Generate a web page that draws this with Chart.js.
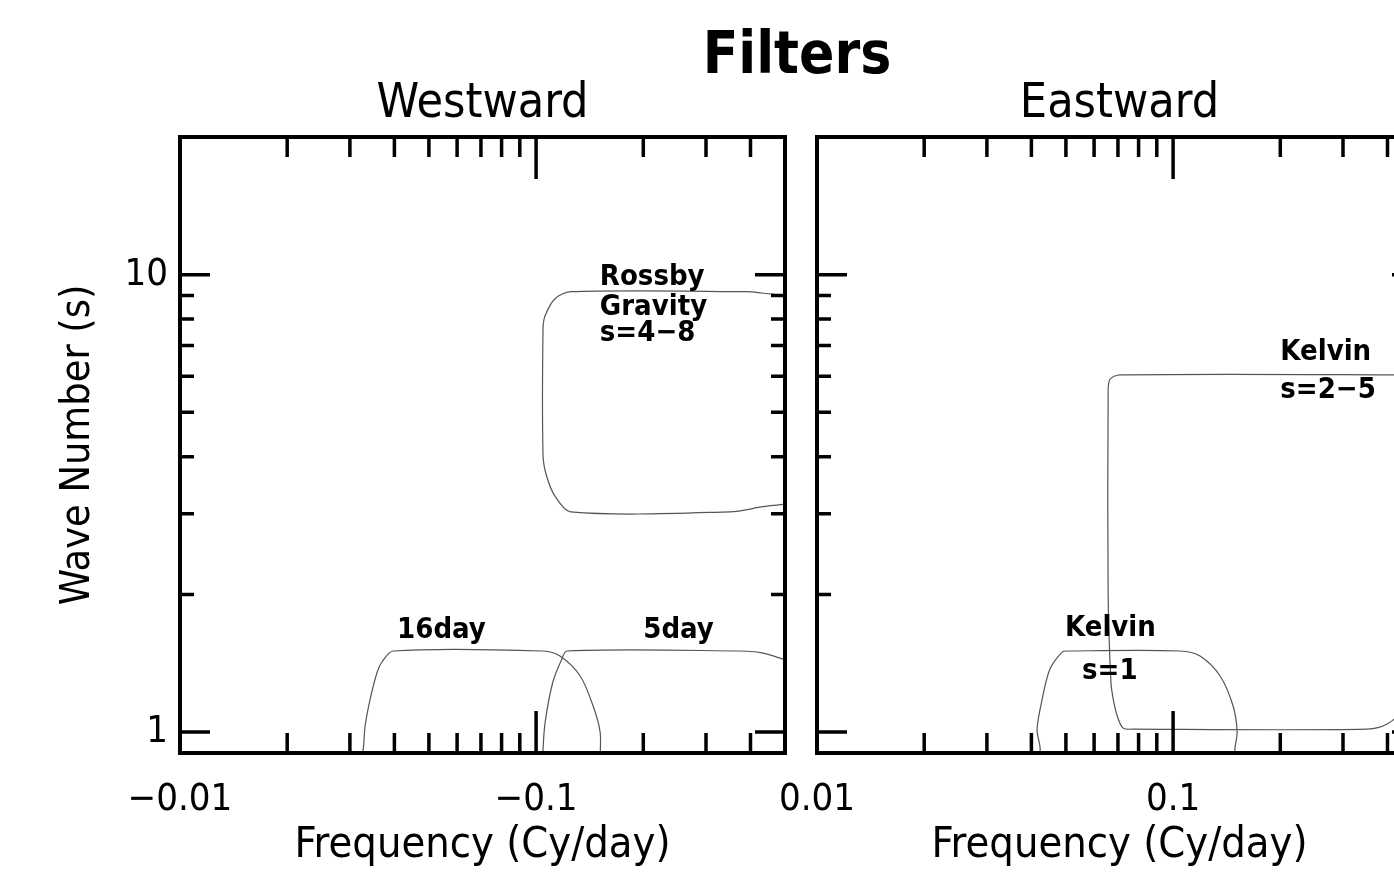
<!DOCTYPE html>
<html>
<head>
<meta charset="utf-8">
<title>Filters</title>
<script src="https://cdn.jsdelivr.net/npm/chart.js@4.4.1/dist/chart.umd.min.js"></script>
<style>
  html, body { margin: 0; padding: 0; background: #fff; overflow: hidden; }
  #wrap { position: relative; width: 1394px; height: 876px; overflow: hidden; }
  canvas { position: absolute; top: 0; }
  #west { left: 0; }
  #east { left: 740px; }
  #main-title { position: absolute; left: 597px; top: 24px; width: 400px; text-align: center;
    font: bold 58px/58px 'DejaVu Sans Condensed', 'DejaVu Sans', sans-serif; color: #000; }
</style>
</head>
<body>
<div id="wrap">
  <canvas id="west" width="813" height="876"></canvas>
  <canvas id="east" width="710" height="876"></canvas>
  <div id="main-title">Filters</div>
</div>
<script>
const FONT = "'DejaVu Sans Condensed', 'DejaVu Sans', sans-serif";

// tick values (cy/day, wave number)
const freqTicks = [0.01, 0.02, 0.03, 0.04, 0.05, 0.06, 0.07, 0.08, 0.09, 0.1, 0.2, 0.3, 0.4, 0.5];
const waveTicks = [1, 2, 3, 4, 5, 6, 7, 8, 9, 10];

// westward panel: frequency kept as |f|, the axis labels carry the minus sign
const rgFreq = [0.56, 0.5, 0.43, 0.39, 0.125, 0.113, 0.106, 0.1046, 0.1046, 0.107, 0.113, 0.125, 0.351, 0.434, 0.5, 0.56];
const rgWave = [8.95, 9.0, 9.12, 9.18, 9.18, 8.86, 8.13, 7.62, 4.02, 3.63, 3.28, 3.03, 3.03, 3.11, 3.15, 3.2];

const d16Freq = [0.0322, 0.0327, 0.0331, 0.0342, 0.0358, 0.0369, 0.0397, 0.1047, 0.1167, 0.133, 0.1446, 0.1513, 0.1513];
const d16Wave = [0.88, 0.918, 1.031, 1.181, 1.353, 1.423, 1.504, 1.504, 1.466, 1.326, 1.14, 1.0, 0.88];

const d5Freq = [0.1046, 0.1046, 0.106, 0.1114, 0.1179, 0.1222, 0.374, 0.43, 0.494, 0.56];
const d5Wave = [0.88, 0.918, 1.05, 1.285, 1.44, 1.504, 1.504, 1.49, 1.444, 1.40];

// eastward panel
const k1Freq = [0.0423, 0.0423, 0.0415, 0.0429, 0.0451, 0.0488, 0.0504, 0.1046, 0.119, 0.1355, 0.1474, 0.1513, 0.1493, 0.149];
const k1Wave = [0.88, 0.927, 1.015, 1.181, 1.374, 1.496, 1.504, 1.504, 1.466, 1.326, 1.14, 1.0, 0.927, 0.88];

const k25Freq = [0.56, 0.071, 0.0664, 0.0657, 0.0657, 0.0669, 0.0679, 0.0697, 0.0724, 0.078, 0.351, 0.399, 0.44, 0.47, 0.48];
const k25Wave = [6.04, 6.04, 5.9, 5.4, 2.0, 1.286, 1.181, 1.084, 1.02, 1.015, 1.015, 1.041, 1.12, 1.3, 2.0];

// text labels: [text, freq, wave number]
const westNotes = [
  ['Rossby', 0.151, 9.85], ['Gravity', 0.151, 8.5], ['s=4\u22128', 0.151, 7.45],
  ['16day', 0.0407, 1.665], ['5day', 0.2, 1.665]
];
const eastNotes = [
  ['Kelvin', 0.0497, 1.685], ['s=1', 0.0555, 1.36],
  ['Kelvin', 0.2, 6.75], ['s=2\u22125', 0.2, 5.58]
];

function isDecade(v) {
  const l = Math.log10(v);
  return Math.abs(l - Math.round(l)) < 1e-6;
}

function pts(xs, ys) {
  return xs.map((x, i) => ({ x: x, y: ys[i] }));
}

function curve(xs, ys) {
  return { data: pts(xs, ys), showLine: true, pointRadius: 0, borderColor: '#555', borderWidth: 1.2, tension: 0.3, fill: false };
}

// frame with inward tick marks on all four sides, taken from the scales
const frameTicks = {
  id: 'frameTicks',
  afterDraw(chart) {
    const ctx = chart.ctx;
    const x = chart.scales.x, y = chart.scales.y;
    const left = x.left, right = x.right, top = y.top, bottom = y.bottom;
    ctx.save();
    ctx.strokeStyle = '#000';
    ctx.lineWidth = 3.5;
    ctx.beginPath();
    x.ticks.forEach(t => {
      const px = x.getPixelForValue(t.value);
      const len = isDecade(t.value) ? 42 : 20;
      ctx.moveTo(px, bottom); ctx.lineTo(px, bottom - len);
      ctx.moveTo(px, top); ctx.lineTo(px, top + len);
    });
    y.ticks.forEach(t => {
      const py = y.getPixelForValue(t.value);
      const len = isDecade(t.value) ? 30 : 14;
      ctx.moveTo(left, py); ctx.lineTo(left + len, py);
      ctx.moveTo(right, py); ctx.lineTo(right - len, py);
    });
    ctx.stroke();
    ctx.lineWidth = 4;
    ctx.strokeRect(left, top, right - left, bottom - top);
    ctx.restore();
  }
};

function notesPlugin(notes) {
  return {
    id: 'notes',
    afterDatasetsDraw(chart) {
      const { ctx } = chart;
      const x = chart.scales.x, y = chart.scales.y;
      ctx.save();
      ctx.fillStyle = '#000';
      ctx.font = 'bold 29px ' + FONT;
      ctx.textAlign = 'left';
      ctx.textBaseline = 'middle';
      notes.forEach(n => ctx.fillText(n[0], x.getPixelForValue(n[1]), y.getPixelForValue(n[2])));
      ctx.restore();
    }
  };
}

function panel(canvas, title, datasets, notes, west) {
  return new Chart(canvas, {
    type: 'scatter',
    data: { datasets: datasets },
    options: {
      responsive: false,
      animation: false,
      events: [],
      layout: { padding: west ? { left: 40, right: 0, top: 10, bottom: 4 } : { left: 77, right: 0, top: 10, bottom: 4 } },
      plugins: {
        legend: { display: false },
        tooltip: { enabled: false },
        title: {
          display: true, text: title, fullSize: false, color: '#000',
          font: { family: FONT, size: 48, weight: 'normal', lineHeight: 1.2 },
          padding: { top: 66.2, bottom: 3.2 }
        }
      },
      scales: {
        x: {
          type: 'logarithmic', min: 0.01, max: 0.5,
          afterBuildTicks: s => { s.ticks = freqTicks.map(v => ({ value: v })); },
          grid: { display: false, drawTicks: false },
          border: { display: false },
          ticks: {
            autoSkip: false, maxRotation: 0, minRotation: 0, padding: 28, color: '#000',
            font: { family: FONT, size: 38, lineHeight: 1 },
            callback: v => (isDecade(v) && v < 0.5) ? (west ? '\u2212' : '') + v : ''
          },
          title: {
            display: true, text: 'Frequency (Cy/day)', color: '#000',
            font: { family: FONT, size: 43, lineHeight: 1 },
            padding: { top: -23, bottom: 5 }
          }
        },
        y: {
          type: 'logarithmic', min: 0.9, max: 20,
          afterBuildTicks: s => { s.ticks = waveTicks.map(v => ({ value: v })); },
          grid: { display: false, drawTicks: false },
          border: { display: false },
          ticks: {
            display: west, padding: 12, color: '#000',
            font: { family: FONT, size: 38, lineHeight: 1.2 },
            callback: v => (v === 1 || v === 10) ? String(v) : ''
          },
          title: {
            display: west, text: 'Wave Number (s)', color: '#000',
            font: { family: FONT, size: 41, lineHeight: 1.2 },
            padding: { top: 13.4, bottom: 9.9 }
          }
        }
      }
    },
    plugins: [frameTicks, notesPlugin(notes)]
  });
}

panel(document.getElementById('west'), 'Westward',
  [curve(rgFreq, rgWave), curve(d16Freq, d16Wave), curve(d5Freq, d5Wave)], westNotes, true);
panel(document.getElementById('east'), 'Eastward',
  [curve(k1Freq, k1Wave), curve(k25Freq, k25Wave)], eastNotes, false);
</script>
</body>
</html>
